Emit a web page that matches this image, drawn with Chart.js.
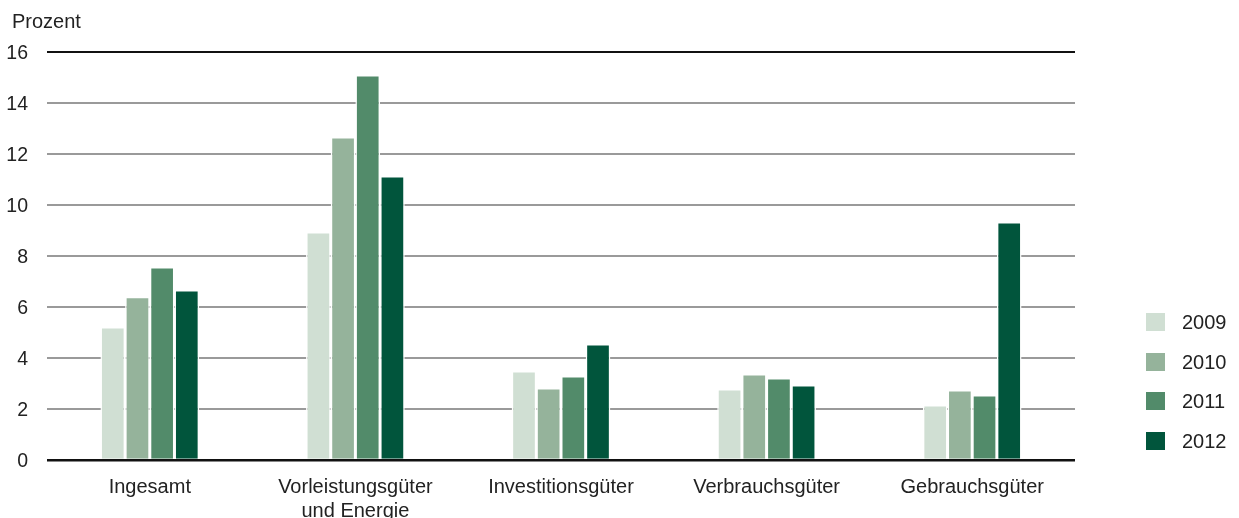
<!DOCTYPE html>
<html><head><meta charset="utf-8">
<script src="https://cdn.jsdelivr.net/npm/chart.js@4/dist/chart.umd.min.js"></script>
<style>html,body{margin:0;padding:0;background:#fff;}#wrap{width:1239px;height:518px;}</style>
</head><body><div id="wrap"><canvas id="c" width="1239" height="518"></canvas></div>
<script>
const categories = [["Ingesamt"], ["Vorleistungsgüter", "und Energie"], ["Investitionsgüter"], ["Verbrauchsgüter"], ["Gebrauchsgüter"]];
const years = ["2009", "2010", "2011", "2012"];
const v2009 = [5.22, 8.94, 3.49, 2.78, 2.16];
const v2010 = [6.40, 12.67, 2.82, 3.37, 2.75];
const v2011 = [7.57, 15.10, 3.29, 3.22, 2.55];
const v2012 = [6.67, 11.14, 4.55, 2.94, 9.33];
const colors = ["#d0dfd3", "#95b39b", "#528b6a", "#01553c"];
const yTicks = [0, 2, 4, 6, 8, 10, 12, 14, 16];
const unitLabel = "Prozent";
const FONT = "'Liberation Sans', Arial, sans-serif";

const extras = {
  id: 'extras',
  afterDraw(chart) {
    const ctx = chart.ctx;
    ctx.save();
    ctx.font = "20px " + FONT;
    ctx.fillStyle = "#222";
    ctx.textBaseline = "middle";
    ctx.textAlign = "left";
    ctx.fillText(unitLabel, 12, 22);
    const rowY = [322, 362, 401, 441];
    chart.data.datasets.forEach((ds, i) => {
      const y = rowY[i];
      ctx.fillStyle = ds.backgroundColor;
      ctx.fillRect(1146, y - 9, 19, 18);
      ctx.fillStyle = "#222";
      ctx.fillText(ds.label, 1182, y + 1);
    });
    ctx.restore();
  }
};

const data = {
  labels: categories,
  datasets: [v2009, v2010, v2011, v2012].map((vals, i) => ({
    label: years[i],
    data: vals,
    backgroundColor: colors[i],
    borderColor: "#ffffff",
    borderWidth: {left: 1.5, right: 1.5, top: 1.5, bottom: 0},
    borderSkipped: 'start',
    categoryPercentage: 0.48,
    barPercentage: 1.0
  }))
};

new Chart(document.getElementById('c'), {
  type: 'bar',
  data,
  plugins: [extras],
  options: {
    responsive: false,
    animation: false,
    devicePixelRatio: 1,
    layout: {padding: {left: 0, right: 164, top: 52, bottom: 0}},
    plugins: {legend: {display: false}, tooltip: {enabled: false}},
    scales: {
      x: {
        grid: {display: false, drawTicks: false},
        border: {display: false},
        ticks: {color: "#222", font: {family: FONT, size: 20, lineHeight: 1.2}, padding: 15, maxRotation: 0, autoSkip: false},
        afterFit(s) { s.height = 58; }
      },
      y: {
        min: 0, max: 16,
        afterBuildTicks(s) { s.ticks = yTicks.map(v => ({value: v})); },
        grid: {
          drawTicks: false,
          color: c => (c.tick && (c.tick.value === 0 || c.tick.value === 16)) ? "#111" : "#9a9a9a",
          lineWidth: c => (c.tick && c.tick.value === 0) ? 2.5 : 2
        },
        border: {display: false},
        ticks: {color: "#222", font: {family: FONT, size: 19.5}, padding: 19, labelOffset: 2},
        afterFit(s) { s.width = 47; }
      }
    }
  }
});
</script></body></html>
